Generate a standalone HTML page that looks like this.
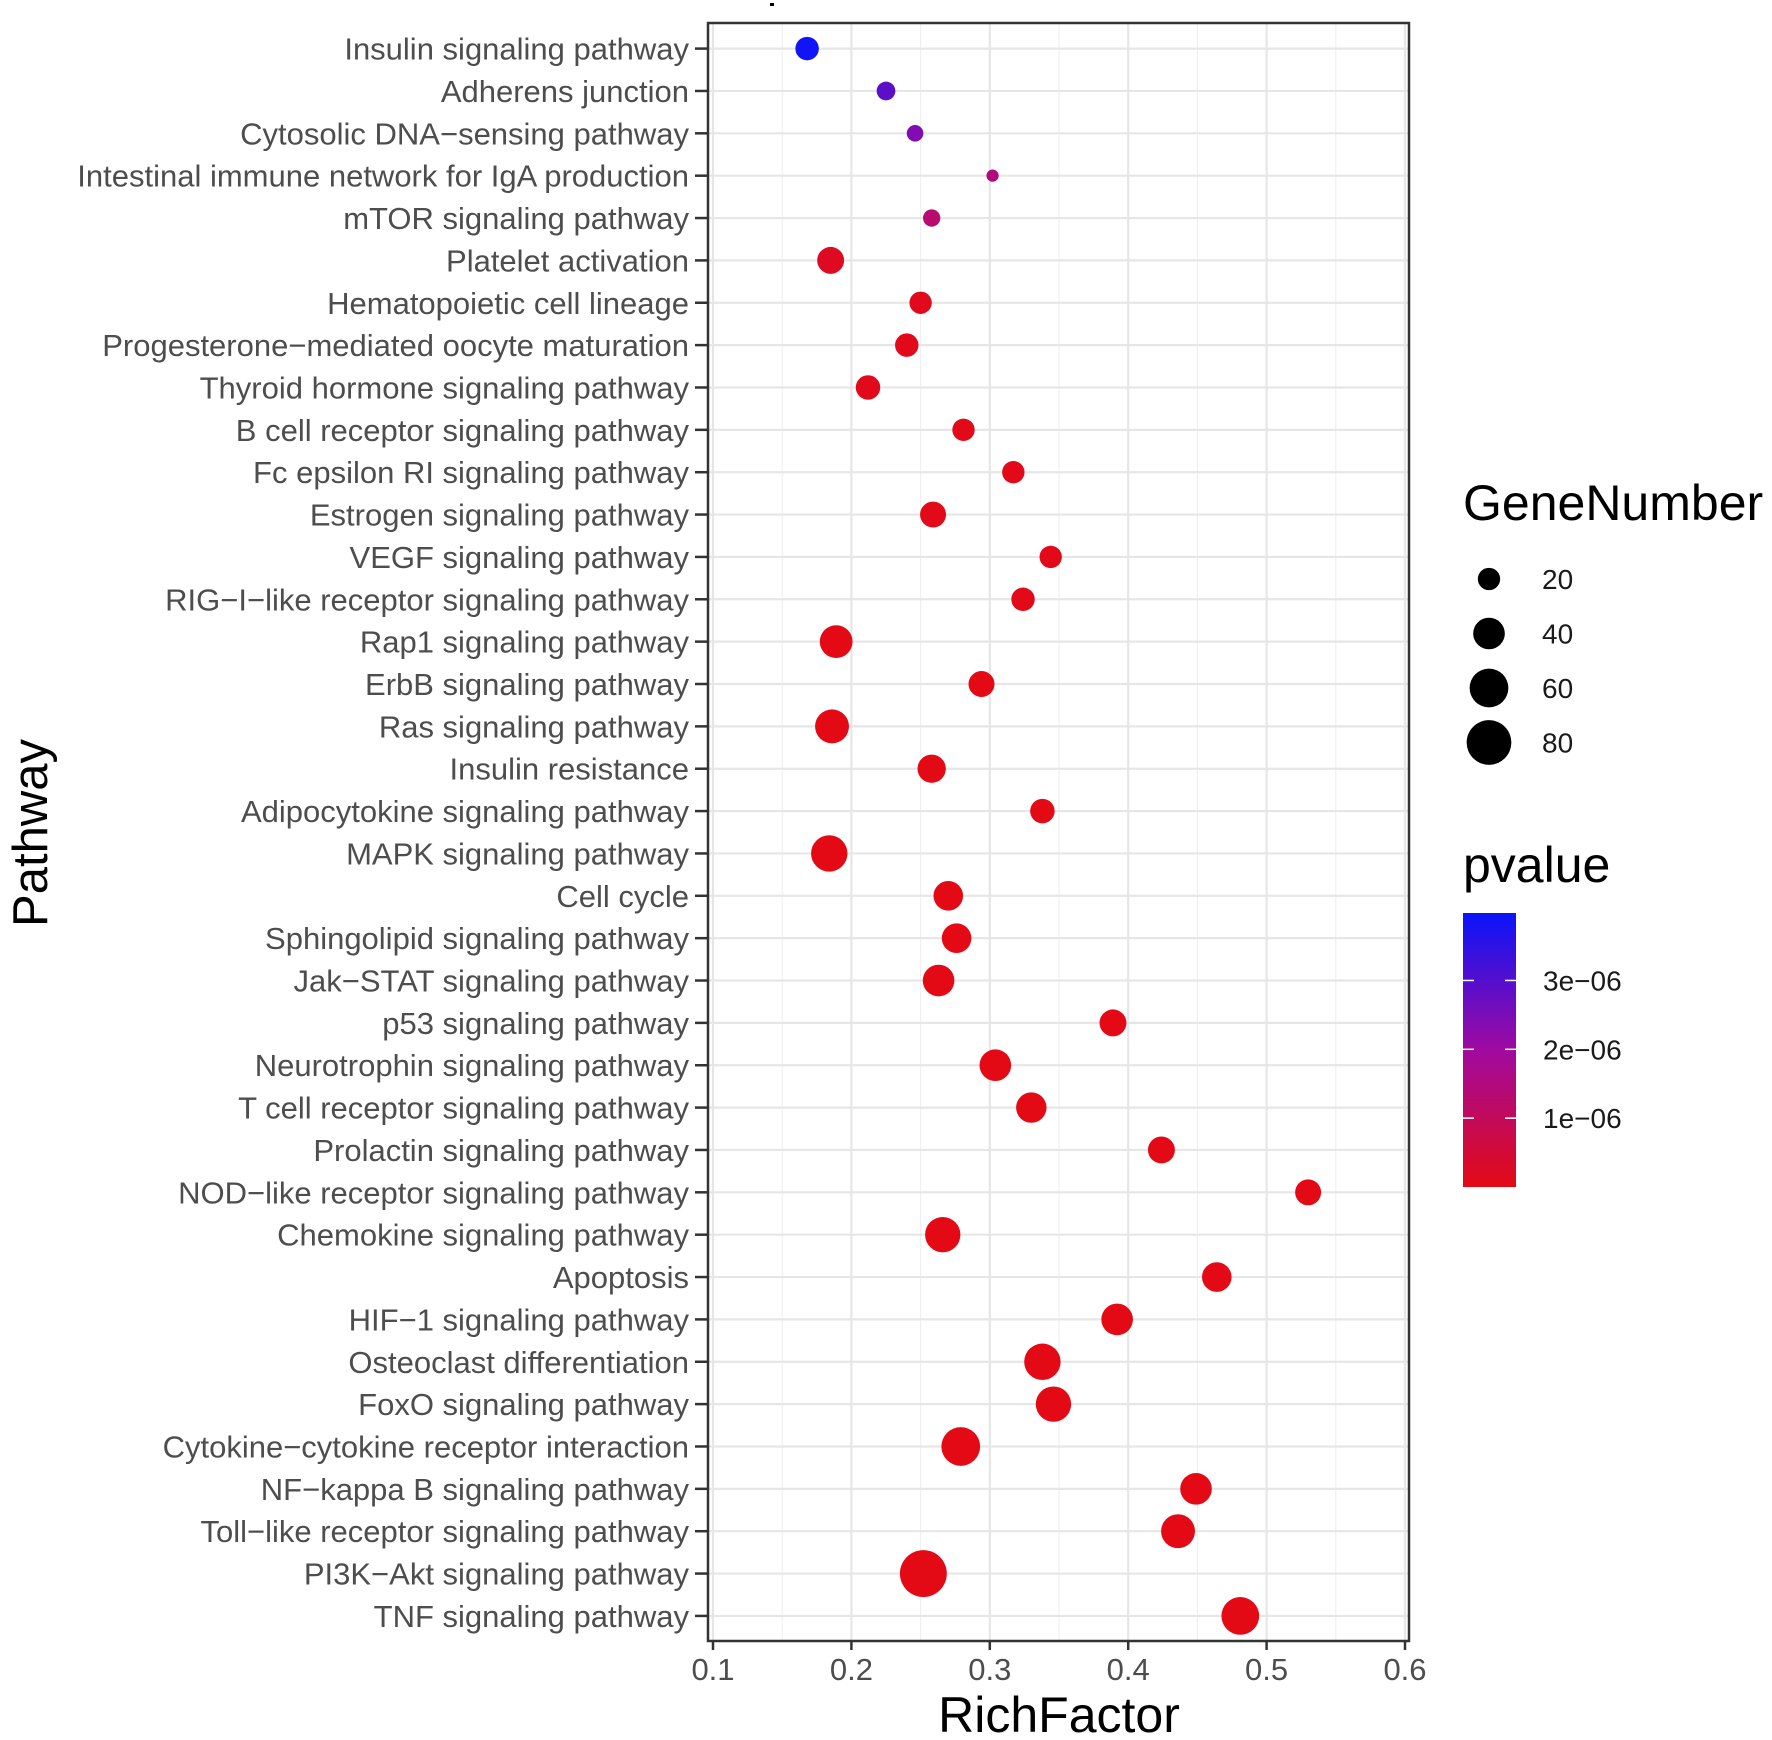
<!DOCTYPE html>
<html><head><meta charset="utf-8"><style>
html,body{margin:0;padding:0;background:#fff;}
svg{display:block;font-family:"Liberation Sans",sans-serif;}
</style></head><body>
<svg id="chart" width="1772" height="1740" viewBox="0 0 1772 1740" xmlns="http://www.w3.org/2000/svg">
<rect x="770" y="3" width="4" height="3" fill="#000"/>
<g id="grid"></g>
<g id="yaxis"></g>
<g id="xaxis"></g>
<g id="points"></g>
<rect x="708" y="23" width="701" height="1618" fill="none" stroke="#333" stroke-width="2.5"/>
<text x="1059" y="1732" font-size="50" text-anchor="middle" fill="#000">RichFactor</text>
<text x="0" y="0" font-size="49" text-anchor="middle" fill="#000" transform="translate(47,833) rotate(-90)">Pathway</text>
<g id="legend-size">
<text x="1463" y="520" font-size="50" fill="#000">GeneNumber</text>
</g>
<g id="legend-color">
<text x="1463" y="882" font-size="50" fill="#000">pvalue</text>
<defs><linearGradient id="cg" x1="0" y1="1" x2="0" y2="0"></linearGradient></defs>
<rect x="1463" y="913" width="53" height="274" fill="url(#cg)"/>
</g>
</svg>
<script>
const categories=["Insulin signaling pathway","Adherens junction","Cytosolic DNA\u2212sensing pathway","Intestinal immune network for IgA production","mTOR signaling pathway","Platelet activation","Hematopoietic cell lineage","Progesterone\u2212mediated oocyte maturation","Thyroid hormone signaling pathway","B cell receptor signaling pathway","Fc epsilon RI signaling pathway","Estrogen signaling pathway","VEGF signaling pathway","RIG\u2212I\u2212like receptor signaling pathway","Rap1 signaling pathway","ErbB signaling pathway","Ras signaling pathway","Insulin resistance","Adipocytokine signaling pathway","MAPK signaling pathway","Cell cycle","Sphingolipid signaling pathway","Jak\u2212STAT signaling pathway","p53 signaling pathway","Neurotrophin signaling pathway","T cell receptor signaling pathway","Prolactin signaling pathway","NOD\u2212like receptor signaling pathway","Chemokine signaling pathway","Apoptosis","HIF\u22121 signaling pathway","Osteoclast differentiation","FoxO signaling pathway","Cytokine\u2212cytokine receptor interaction","NF\u2212kappa B signaling pathway","Toll\u2212like receptor signaling pathway","PI3K\u2212Akt signaling pathway","TNF signaling pathway"];
const richFactor=[0.168,0.225,0.246,0.302,0.258,0.185,0.25,0.24,0.212,0.281,0.317,0.259,0.344,0.324,0.189,0.294,0.186,0.258,0.338,0.184,0.27,0.276,0.263,0.389,0.304,0.33,0.424,0.53,0.266,0.464,0.392,0.338,0.346,0.279,0.449,0.436,0.252,0.481];
const geneNumber=[22,14,11,6,12,29,20,22,24,20,20,27,20,22,43,27,46,32,24,53,35,35,40,29,40,37,29,27,50,35,40,53,50,60,40,46,88,57];
const pvalue=[3.9e-6,2.9e-6,2.4e-6,1.5e-6,1.3e-6,0.2e-6,0.12e-6,0.1e-6,0.08e-6,0.05e-6,0.05e-6,0.05e-6,0.05e-6,0.05e-6,0.03e-6,0.03e-6,0.03e-6,0.03e-6,0.03e-6,0.02e-6,0.02e-6,0.02e-6,0.02e-6,0.02e-6,0.01e-6,0.01e-6,0.01e-6,0.01e-6,0.01e-6,0.01e-6,0.01e-6,0.01e-6,0.01e-6,0.01e-6,0.01e-6,0.01e-6,0.01e-6,0.01e-6];
const xTicks=[0.1,0.2,0.3,0.4,0.5,0.6];
const xTickLabels=["0.1","0.2","0.3","0.4","0.5","0.6"];
const sizeBreaks=[20,40,60,80];
const pBreaks=[1e-6,2e-6,3e-6];
const pBreakLabels=["1e\u221206","2e\u221206","3e\u221206"];

const NS="http://www.w3.org/2000/svg";
const PL=708,PR=1409,PT=23,PB=1641;
const X=v=>713+(v-0.1)*1384;
const Y=i=>48.6+i*42.36;
const R=n=>2.5*Math.sqrt(n);
const PMIN=0,PMAX=3.98e-6;
const CB_T=913,CB_B=1187;
const PY=p=>CB_B-(p-PMIN)/(PMAX-PMIN)*(CB_B-CB_T);
function col(p){let t=Math.max(0,Math.min(1,(p-PMIN)/(PMAX-PMIN)));
 const lo=[228,10,20],mid=[160,10,160],hi=[10,20,250];let a,b,u;
 if(t<0.5){a=lo;b=mid;u=t/0.5;}else{a=mid;b=hi;u=(t-0.5)/0.5;}
 return `rgb(${a.map((c,k)=>Math.round(c+(b[k]-c)*u)).join(',')})`;}
function mk(tag,attrs,parent){const e=document.createElementNS(NS,tag);for(const k in attrs)e.setAttribute(k,attrs[k]);parent.appendChild(e);return e;}

const grid=document.getElementById('grid');
for(let i=0;i<xTicks.length-1;i++){const m=(xTicks[i]+xTicks[i+1])/2;
 const l=mk('line',{x1:X(m),x2:X(m),y1:PT,y2:PB,stroke:'#f0f0f0','stroke-width':1.2},grid);
 
 }
xTicks.forEach(v=>{const l=mk('line',{x1:X(v),x2:X(v),y1:PT,y2:PB,stroke:'#e6e6e6','stroke-width':2.2},grid);
 
 });
categories.forEach((c,i)=>{const l=mk('line',{x1:PL,x2:PR,y1:Y(i),y2:Y(i),stroke:'#e6e6e6','stroke-width':2.2},grid);
 
 });

const ya=document.getElementById('yaxis');
categories.forEach((c,i)=>{
 const t=mk('text',{x:689,y:Y(i)+11,'font-size':31,'text-anchor':'end',fill:'#4d4d4d'},ya);t.textContent=c;
 
 
 const k=mk('line',{x1:695,x2:708,y1:Y(i),y2:Y(i),stroke:'#333','stroke-width':2.5},ya);
 
 });

const xa=document.getElementById('xaxis');
xTicks.forEach((v,i)=>{
 const k=mk('line',{x1:X(v),x2:X(v),y1:PB,y2:PB+9,stroke:'#333','stroke-width':2.5},xa);
 
 
 const t=mk('text',{x:X(v),y:1680,'font-size':31,'text-anchor':'middle',fill:'#4d4d4d'},xa);t.textContent=xTickLabels[i];
 
 });

const pts=document.getElementById('points');
categories.forEach((c,i)=>{
 const e=mk('circle',{cx:X(richFactor[i]),cy:Y(i),r:R(geneNumber[i]),fill:col(pvalue[i])},pts);
 
 });

const ls=document.getElementById('legend-size');
sizeBreaks.forEach((n,i)=>{const cy=579+i*54.5;
 const e=mk('circle',{cx:1489,cy:cy,r:R(n),fill:'#000'},ls);
 
 
 const t=mk('text',{x:1542,y:cy+10,'font-size':28,fill:'#1a1a1a'},ls);t.textContent=String(n);
 
 });

const cg=document.getElementById('cg');
for(let s=0;s<=10;s++){mk('stop',{offset:s/10,'stop-color':col(PMIN+(PMAX-PMIN)*s/10)},cg);}
const lc=document.getElementById('legend-color');
pBreaks.forEach((p,i)=>{const y=PY(p);
 mk('line',{x1:1463,x2:1474,y1:y,y2:y,stroke:'#fff','stroke-width':1.5},lc);
 mk('line',{x1:1505,x2:1516,y1:y,y2:y,stroke:'#fff','stroke-width':1.5},lc);
 const t=mk('text',{x:1543,y:y+10,'font-size':28,fill:'#1a1a1a'},lc);t.textContent=pBreakLabels[i];
 
 });
</script>
</body></html>
